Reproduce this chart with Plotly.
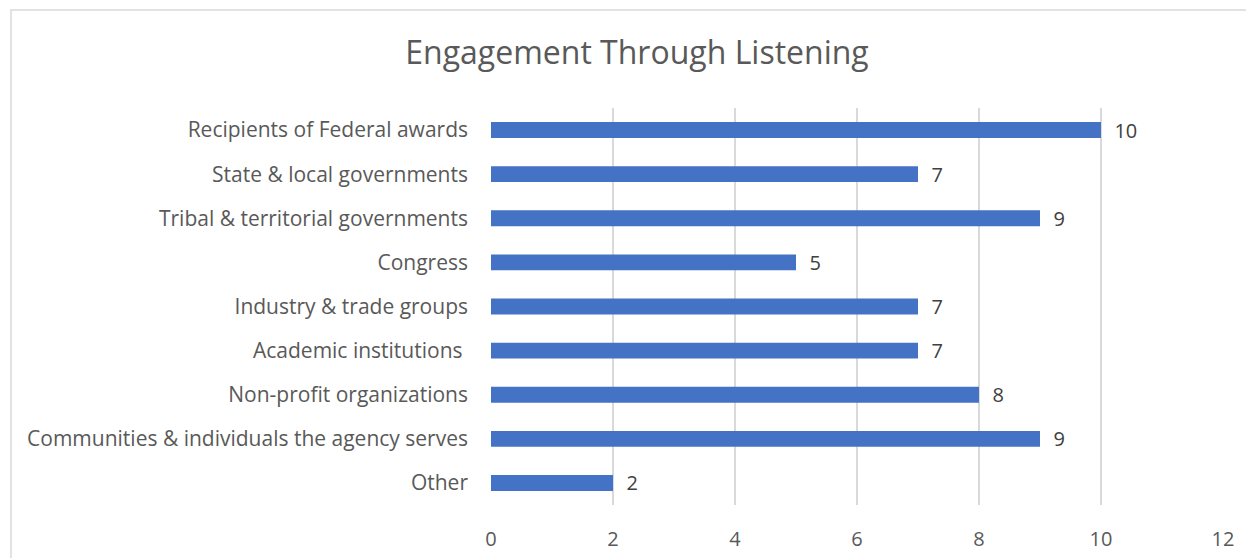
import plotly.graph_objects as go

categories = [
    "Recipients of Federal awards",
    "State & local governments",
    "Tribal & territorial governments",
    "Congress",
    "Industry & trade groups",
    "Academic institutions\u00a0",
    "Non-profit organizations",
    "Communities & individuals the agency serves",
    "Other",
]
values = [10, 7, 9, 5, 7, 7, 8, 9, 2]
x_ticks = [0, 2, 4, 6, 8, 10, 12]

W, H = 1254, 558
OFF = 8  # page body margin
L, R, T, B = 491 - OFF, 1223 - OFF, 108 - OFF, 505 - OFF

fig = go.Figure(go.Bar(
    x=values,
    y=categories,
    orientation="h",
    marker=dict(color="#4472c4", line=dict(width=0)),
    width=0.36,
    text=values,
    texttemplate="\u00a0\u00a0%{x}",
    textposition="outside",
    constraintext="none",
    textfont=dict(family="Open Sans", size=20, color="#404040"),
    cliponaxis=False,
))

def px_to_paper_x(px):
    return (px - OFF - L) / (R - L)

def px_to_paper_y(py):
    return (B - (py - OFF)) / (B - T)

fig.add_shape(
    type="rect", xref="paper", yref="paper",
    x0=px_to_paper_x(11), x1=px_to_paper_x(1290),
    y0=px_to_paper_y(600), y1=px_to_paper_y(10),
    line=dict(color="#d9d9d9", width=1.5), fillcolor="rgba(0,0,0,0)",
    layer="below",
)

fig.update_layout(
    width=W, height=H,
    margin=dict(l=L, r=W - R, t=T, b=H - B),
    paper_bgcolor="white", plot_bgcolor="white",
    showlegend=False,
    title=dict(
        text="Engagement Through Listening",
        x=(637 - OFF) / W, xanchor="center", xref="container",
        y=1 - (53 - OFF) / H, yanchor="middle", yref="container",
        font=dict(family="Open Sans", size=32, color="#595959"),
    ),
    font=dict(family="Open Sans", color="#595959", size=21),
    xaxis=dict(
        range=[0, 12], tickvals=x_ticks, showgrid=True,
        gridcolor="#d9d9d9", gridwidth=1.5, zeroline=False,
        showline=False, ticks="", ticklabelstandoff=20,
        tickfont=dict(family="Open Sans", size=20, color="#595959"),
    ),
    yaxis=dict(
        autorange="reversed", showgrid=False, zeroline=False,
        showline=False, ticks="", ticklabelstandoff=22,
        tickfont=dict(family="Open Sans", size=21, color="#595959"),
    ),
    bargap=0.64,
)

fig.write_html("out.html")
